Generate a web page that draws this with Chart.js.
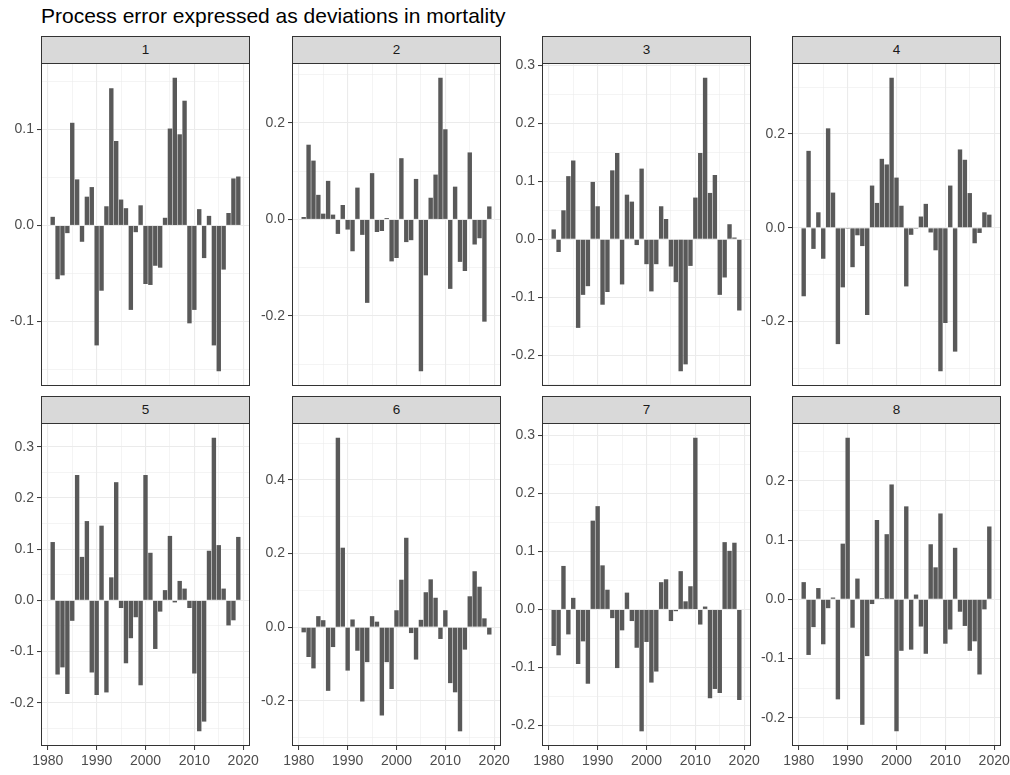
<!DOCTYPE html>
<html>
<head>
<meta charset="utf-8">
<script src="https://cdn.jsdelivr.net/npm/chart.js@4.4.1/dist/chart.umd.min.js"></script>
<style>
  body { margin: 0; background: #fff; font-family: "Liberation Sans", Arial, sans-serif; }
  #wrap { position: relative; width: 1010px; height: 775px; overflow: hidden; }
  .title { position: absolute; left: 41px; top: 6px; font-size: 21px; line-height: 20px; color: #000; white-space: nowrap; }
  .strip { position: absolute; height: 28px; box-sizing: border-box; border: 1px solid #333; background: #d9d9d9;
           color: #1a1a1a; font-size: 13.5px; line-height: 26px; text-align: center; }
  canvas { position: absolute; }
</style>
</head>
<body>
<div id="wrap">
  <div class="title">Process error expressed as deviations in mortality</div>
</div>
<script>
// Data
const years = [1981, 1982, 1983, 1984, 1985, 1986, 1987, 1988, 1989, 1990,
               1991, 1992, 1993, 1994, 1995, 1996, 1997, 1998, 1999, 2000,
               2001, 2002, 2003, 2004, 2005, 2006, 2007, 2008, 2009, 2010,
               2011, 2012, 2013, 2014, 2015, 2016, 2017, 2018, 2019];

const mort1 = [0.009, -0.056, -0.052, -0.008, 0.107, 0.048, -0.017, 0.030, 0.040, -0.125,
               -0.068, 0.020, 0.143, 0.088, 0.027, 0.018, -0.088, -0.007, 0.021, -0.061,
               -0.062, -0.042, -0.044, 0.008, 0.101, 0.154, 0.095, 0.130, -0.102, -0.088,
               0.017, -0.034, 0.010, -0.125, -0.152, -0.046, 0.013, 0.049, 0.051];
const mort2 = [0.005, 0.155, 0.122, 0.051, 0.012, 0.080, 0.010, -0.030, 0.030, -0.021,
               -0.066, 0.066, -0.032, -0.173, 0.096, -0.026, -0.024, 0.003, -0.087, -0.080,
               0.127, -0.047, -0.043, 0.084, -0.315, -0.116, 0.045, 0.093, 0.294, 0.187,
               -0.144, 0.068, -0.088, -0.107, 0.139, -0.052, -0.039, -0.212, 0.027];
const mort3 = [0.017, -0.022, 0.050, 0.109, 0.136, -0.153, -0.096, -0.081, 0.099, 0.057,
               -0.113, -0.091, 0.119, 0.149, -0.078, 0.077, 0.065, -0.010, 0.122, -0.043,
               -0.090, -0.043, 0.057, 0.035, -0.047, -0.074, -0.228, -0.216, -0.046, 0.072,
               0.149, 0.279, 0.080, 0.111, -0.096, -0.066, 0.026, 0.003, -0.123];
const mort4 = [-0.146, 0.164, -0.045, 0.033, -0.066, 0.212, 0.075, -0.248, -0.127, -0.002,
               -0.084, -0.016, -0.039, -0.186, 0.090, 0.053, 0.147, 0.135, 0.320, 0.107,
               0.047, -0.125, -0.015, -0.002, 0.024, 0.051, -0.010, -0.048, -0.306, -0.203,
               0.090, -0.264, 0.167, 0.145, 0.074, -0.033, -0.011, 0.033, 0.028];
const mort5 = [0.114, -0.145, -0.131, -0.183, -0.040, 0.245, 0.085, 0.155, -0.141, -0.185,
               0.146, -0.180, 0.045, 0.231, -0.015, -0.123, -0.074, -0.033, -0.166, 0.245,
               0.093, -0.095, -0.022, 0.020, 0.126, -0.004, 0.038, 0.023, -0.015, -0.143,
               -0.256, -0.237, 0.097, 0.318, 0.108, 0.023, -0.049, -0.039, 0.124];
const mort6 = [-0.014, -0.081, -0.112, 0.030, 0.019, -0.173, -0.054, 0.515, 0.216, -0.118,
               0.021, -0.064, -0.202, -0.095, 0.030, 0.015, -0.240, -0.095, -0.168, 0.046,
               0.129, 0.243, -0.016, -0.088, 0.020, 0.095, 0.130, 0.080, -0.032, 0.046,
               -0.152, -0.177, -0.283, -0.061, 0.084, 0.152, 0.110, 0.024, -0.020];
const mort7 = [-0.063, -0.079, 0.075, -0.043, 0.020, -0.094, -0.055, -0.128, 0.153, 0.178,
               0.076, 0.034, -0.015, -0.101, -0.036, 0.029, -0.020, -0.066, -0.210, -0.056,
               -0.126, -0.107, 0.047, 0.052, -0.020, -0.003, 0.066, 0.014, 0.040, 0.296,
               -0.026, 0.005, -0.153, -0.137, -0.144, 0.116, 0.101, 0.115, -0.156];
const mort8 = [0.029, -0.094, -0.047, 0.019, -0.076, -0.015, 0.003, -0.169, 0.094, 0.273,
               -0.048, 0.035, -0.212, -0.096, -0.008, 0.134, 0.002, 0.110, 0.194, -0.223,
               -0.087, 0.157, -0.085, 0.008, -0.046, -0.092, 0.093, 0.054, 0.145, -0.075,
               -0.051, 0.087, -0.021, -0.045, -0.087, -0.071, -0.127, -0.017, 0.123];

const panelNames = ['1', '2', '3', '4', '5', '6', '7', '8'];

// y tick labels per panel
const yTicks1 = [-0.1, 0.0, 0.1];
const yTicks2 = [-0.2, 0.0, 0.2];
const yTicks3 = [-0.2, -0.1, 0.0, 0.1, 0.2, 0.3];
const yTicks4 = [-0.2, 0.0, 0.2];
const yTicks5 = [-0.2, -0.1, 0.0, 0.1, 0.2, 0.3];
const yTicks6 = [-0.2, 0.0, 0.2, 0.4];
const yTicks7 = [-0.2, -0.1, 0.0, 0.1, 0.2, 0.3];
const yTicks8 = [-0.2, -0.1, 0.0, 0.1, 0.2];

const xTicks = [1980, 1990, 2000, 2010, 2020];

const series = [mort1, mort2, mort3, mort4, mort5, mort6, mort7, mort8];
const yTicks = [yTicks1, yTicks2, yTicks3, yTicks4, yTicks5, yTicks6, yTicks7, yTicks8];

// layout
const colLeft = [41, 292, 542, 792];
const rowTop = [36, 396];
const panelW = 209, stripH = 28, plotH = 323, axisW = 40, xAxisH = 28, pad = 8, padR = 20;

const BAR = '#595959', GRID = '#ebebeb', TEXT = '#4d4d4d', FONT = '"Liberation Sans", Arial, sans-serif';

// ggplot-like 5% expansion
function expand(lo, hi, mult) {
  const d = (hi - lo) * mult;
  return [lo - d, hi + d];
}
const xRange = expand(years[0] - 0.45, years[years.length - 1] + 0.45, 0.05);

// majors plus half-step minors inside [min,max]
function withMinor(majors, min, max) {
  const step = majors.length > 1 ? majors[1] - majors[0] : 0.1;
  const out = [];
  const n = Math.round((majors[majors.length - 1] - majors[0]) / step) * 2 + 2;
  for (let k = 0; k <= n; k++) {
    const v = +(majors[0] - step / 2 + k * step / 2).toFixed(6);
    if (v < min || v > max) continue;
    out.push({ value: v, minor: k % 2 === 0 });
  }
  return out;
}

const panelBox = {
  id: 'panelBox',
  afterDraw(chart) {
    const a = chart.chartArea, c = chart.ctx;
    c.save();
    c.strokeStyle = '#333333';
    c.lineWidth = 1;
    c.strokeRect(a.left + 0.5, a.top + 0.5, a.right - a.left - 1, a.bottom - a.top - 1);
    c.restore();
  }
};

const wrap = document.getElementById('wrap');

series.forEach((vals, i) => {
  const row = Math.floor(i / 4), col = i % 4;
  const bottom = row === 1;
  const plotTop = rowTop[row] + stripH - 1;

  const cv = document.createElement('canvas');
  const w = axisW + panelW + padR;
  const h = pad + plotH + (bottom ? xAxisH : 0) + pad;
  cv.width = w; cv.height = h;
  cv.style.width = w + 'px'; cv.style.height = h + 'px';
  cv.style.left = (colLeft[col] - axisW) + 'px';
  cv.style.top = (plotTop - pad) + 'px';
  wrap.appendChild(cv);

  const strip = document.createElement('div');
  strip.className = 'strip';
  strip.style.left = colLeft[col] + 'px';
  strip.style.top = rowTop[row] + 'px';
  strip.style.width = panelW + 'px';
  strip.textContent = panelNames[i];
  wrap.appendChild(strip);

  const yr = expand(Math.min(...vals), Math.max(...vals), 0.05);
  const yList = withMinor(yTicks[i], yr[0], yr[1]);
  const xList = withMinor(xTicks, xRange[0], xRange[1]);

  new Chart(cv.getContext('2d'), {
    type: 'bar',
    data: {
      datasets: [{
        data: years.map((y, k) => ({ x: y, y: vals[k] })),
        backgroundColor: BAR,
        borderWidth: 0,
        barPercentage: 0.9,
        categoryPercentage: 1.0
      }]
    },
    options: {
      responsive: false,
      animation: false,
      layout: { padding: { top: pad, bottom: pad, left: 0, right: padR } },
      plugins: { legend: { display: false }, tooltip: { enabled: false } },
      scales: {
        x: {
          type: 'linear',
          offset: false,
          min: xRange[0], max: xRange[1],
          afterBuildTicks: s => { s.ticks = xList.map(t => ({ ...t })); },
          afterFit: s => { s.height = bottom ? xAxisH : 0; s.paddingLeft = 0; s.paddingRight = 0; },
          grid: {
            offset: false,
            color: GRID,
            lineWidth: c => (c.tick && c.tick.minor ? 0.55 : 1.1),
            drawTicks: bottom,
            tickLength: 4,
            tickColor: c => (c.tick && c.tick.minor ? 'rgba(0,0,0,0)' : '#333333'),
            tickWidth: 1
          },
          border: { display: false },
          ticks: {
            display: bottom,
            autoSkip: false,
            maxRotation: 0,
            padding: 3,
            color: TEXT,
            font: { family: FONT, size: 14 },
            callback: (v, k, t) => (t[k].minor ? '' : String(v))
          }
        },
        y: {
          type: 'linear',
          min: yr[0], max: yr[1],
          afterBuildTicks: s => { s.ticks = yList.map(t => ({ ...t })); },
          afterFit: s => { s.width = axisW; s.paddingTop = 0; s.paddingBottom = 0; },
          grid: {
            color: GRID,
            lineWidth: c => (c.tick && c.tick.minor ? 0.55 : 1.1),
            tickLength: 4,
            tickColor: c => (c.tick && c.tick.minor ? 'rgba(0,0,0,0)' : '#333333'),
            tickWidth: 1
          },
          border: { display: false },
          ticks: {
            autoSkip: false,
            padding: 3,
            color: TEXT,
            font: { family: FONT, size: 14 },
            callback: (v, k, t) => (t[k].minor ? '' : Number(v).toFixed(1))
          }
        }
      }
    },
    plugins: [panelBox]
  });
});
</script>
</body>
</html>
